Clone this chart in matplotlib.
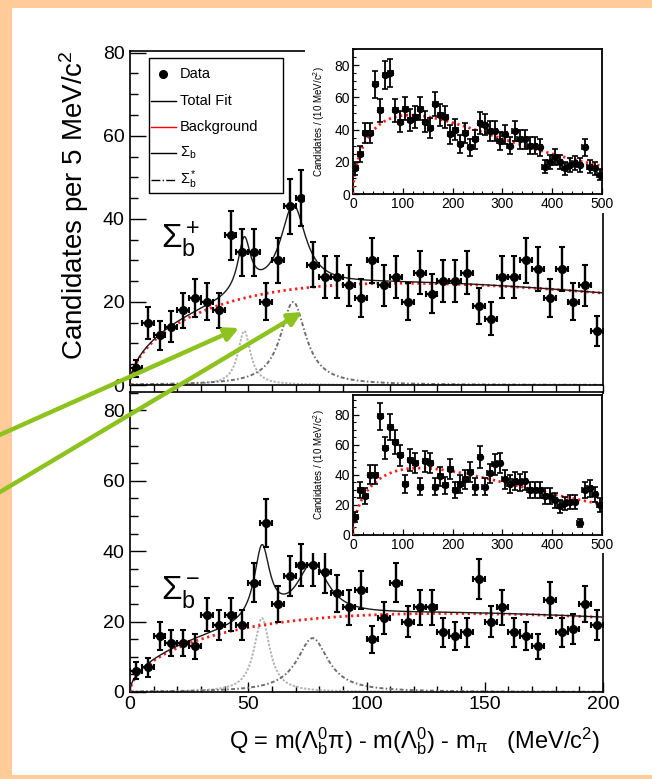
import numpy as np
import matplotlib
matplotlib.use("Agg")
import matplotlib.pyplot as plt
from matplotlib.patches import Rectangle, FancyArrowPatch
from matplotlib.lines import Line2D
from matplotlib.ticker import MultipleLocator

plt.rcParams['font.family'] = ['Liberation Sans', 'DejaVu Sans']
plt.rcParams['mathtext.fontset'] = 'custom'
plt.rcParams['mathtext.rm'] = 'Liberation Sans'
plt.rcParams['mathtext.it'] = 'Liberation Sans:italic'
plt.rcParams['mathtext.bf'] = 'Liberation Sans:bold'

# ---------------- data ----------------
# Q bin centres, 5 MeV bins (main panels) and 10 MeV bins (insets)
q_main = np.arange(2.5, 200, 5.0)
q_wide = np.arange(5.0, 500, 10.0)

# Sigma_b^+ candidates per 5 MeV
counts_plus = [4, 15, 12, 14, 18, 21, 20, 18, 36, 32,
               32, 20, 30, 43, 45, 29, 26, 26, 24, 21,
               30, 24, 26, 20, 27, 22, 25, 25, 27, 19,
               16, 26, 26, 30, 28, 21, 28, 20, 24, 13]
# Sigma_b^- candidates per 5 MeV
counts_minus = [6, 7, 16, 14, 14, 13, 22, 19, 22, 19,
                31, 48, 25, 33, 36, 36, 34, 28, 24, 29,
                15, 21, 31, 20, 24, 24, 17, 16, 17, 32,
                20, 24, 17, 16, 13, 26, 17, 18, 25, 19]
# wide-range spectra, candidates per 10 MeV
wide_plus = [16, 25, 38, 38, 68, 52, 74, 75, 52, 45,
             53, 46, 48, 53, 45, 41, 56, 49, 48, 37,
             40, 31, 38, 29, 34, 44, 43, 39, 39, 33,
             37, 30, 39, 34, 34, 30, 30, 29, 17, 20,
             23, 20, 16, 18, 19, 18, 29, 17, 16, 12]
wide_minus = [12, 30, 26, 40, 40, 79, 58, 72, 62, 53,
              34, 50, 48, 32, 49, 48, 32, 39, 33, 44,
              30, 34, 37, 42, 32, 52, 32, 41, 47, 48,
              37, 34, 36, 35, 36, 30, 30, 30, 26, 26,
              23, 19, 21, 22, 22, 8, 30, 31, 27, 20]

# fit parameters: background (peak height, peak position, power) and
# Breit-Wigner peaks (height, mass, width) per 5 MeV
bkg_plus = (24.5, 115.0, 0.55)
bkg_minus = (22.3, 134.0, 0.55)
sb_plus = (13.0, 48.3, 6.5)
sbs_plus = (20.0, 69.0, 13.0)
sb_minus = (21.0, 55.8, 8.0)
sbs_minus = (15.3, 77.2, 16.0)

# ---------------- model ----------------
def background(q, amp, qpk, a):
    q = np.asarray(q, float)
    return amp * (q / qpk) ** a * np.exp(a * (1.0 - q / qpk))

def breit_wigner(q, h, m, g):
    return h / (1.0 + (2.0 * (q - m) / g) ** 2)

W, H = 652, 779
fig = plt.figure(figsize=(W / 100, H / 100), dpi=100)
fig.patch.set_facecolor('white')

def rect(x0, y0, x1, y1):
    return [x0 / W, 1 - y1 / H, (x1 - x0) / W, (y1 - y0) / H]

def fx(px):
    return px / W

def fy(py):
    return 1 - py / H

PEACH = '#FFCC99'
for r in [(0, 0, W, 8), (0, 0, 12, H), (0, 775, W, H)]:
    fig.add_artist(Rectangle((fx(r[0]), fy(r[3])), (r[2] - r[0]) / W, (r[3] - r[1]) / H,
                             transform=fig.transFigure, facecolor=PEACH,
                             edgecolor='none', zorder=0))

def style_main(ax, ymax, xlabels):
    ax.set_xlim(0, 200)
    ax.set_ylim(0, ymax)
    ax.xaxis.set_major_locator(MultipleLocator(50))
    ax.xaxis.set_minor_locator(MultipleLocator(10))
    ax.yaxis.set_major_locator(MultipleLocator(20))
    ax.yaxis.set_minor_locator(MultipleLocator(5))
    ax.set_yticks([0, 20, 40, 60, 80])
    for s in ax.spines.values():
        s.set_linewidth(1.2)
    ax.tick_params(axis='y', which='major', direction='in', length=11.5, width=1.0,
                   labelsize=14, pad=4)
    ax.tick_params(axis='y', which='minor', direction='in', length=5.8, width=1.0)
    if xlabels:
        ax.tick_params(axis='x', which='major', direction='in', length=7, width=1.0,
                       labelsize=14, pad=3)
        ax.tick_params(axis='x', which='minor', direction='in', length=4, width=1.0)
    else:
        ax.tick_params(axis='x', which='both', direction='out', length=5, width=1.0,
                       labelbottom=False)

def draw_main(ax, counts, bkg, s1, s2):
    qq = np.linspace(0, 200, 801)
    b = background(qq, *bkg)
    p1 = breit_wigner(qq, *s1)
    p2 = breit_wigner(qq, *s2)
    ax.plot(qq, p1, color='#b4b4b4', lw=1.4, ls=(0, (1.2, 0.8)), zorder=2)
    ax.plot(qq, p2, color='#6e6e6e', lw=1.4, ls=(0, (2.0, 1.2, 0.8, 1.2)), zorder=2)
    ax.plot(qq, b, color='#ff1a1a', lw=2.0, ls=(0, (0.8, 1.3)), zorder=3)
    ax.plot(qq, b + p1 + p2, color='#1a1a1a', lw=1.0, zorder=4)
    c = np.asarray(counts, float)
    ax.errorbar(q_main, c, yerr=np.sqrt(c), xerr=2.5, fmt='o', ms=5.5, color='black',
                elinewidth=1.7, capsize=2.5, capthick=1.5, zorder=5)

def draw_inset(ax, counts, bkg, ymax, label_x):
    ax.set_xlim(0, 500)
    ax.set_ylim(0, ymax)
    ax.xaxis.set_major_locator(MultipleLocator(100))
    ax.xaxis.set_minor_locator(MultipleLocator(20))
    ax.yaxis.set_major_locator(MultipleLocator(20))
    ax.yaxis.set_minor_locator(MultipleLocator(5))
    ax.set_yticks([0, 20, 40, 60, 80])
    for s in ax.spines.values():
        s.set_linewidth(1.3)
    ax.tick_params(which='major', direction='in', length=4.5, width=0.9,
                   labelsize=10, pad=2)
    ax.tick_params(which='minor', direction='in', length=2.5, width=0.8)
    qq = np.linspace(0, 500, 1001)
    amp, qpk, a = bkg
    ax.plot(qq, background(qq, 2 * amp, qpk, a), color='#ff1a1a', lw=2.0,
            ls=(0, (0.8, 1.3)), zorder=3)
    c = np.asarray(counts, float)
    ax.errorbar(q_wide, c, yerr=np.sqrt(c), xerr=5, fmt='o', ms=4.3, color='black',
                elinewidth=1.3, capsize=2.0, capthick=1.2, zorder=5)
    ax.set_ylabel('Candidates / (10 MeV/c$^2$)', fontsize=7)
    ax.yaxis.set_label_coords(label_x, 0.5)

# ---------------- main panels ----------------
ax_top = fig.add_axes(rect(130, 51, 603, 385), zorder=1)
style_main(ax_top, 80.4, False)
draw_main(ax_top, counts_plus, bkg_plus, sb_plus, sbs_plus)

ax_bot = fig.add_axes(rect(130, 392, 603, 692), zorder=1)
style_main(ax_bot, 85.2, True)
draw_main(ax_bot, counts_minus, bkg_minus, sb_minus, sbs_minus)

ax_top.text(0.065, 0.435, r'$\Sigma_\mathrm{b}^+$', transform=ax_top.transAxes,
            fontsize=24, ha='left', va='center')
ax_bot.text(0.065, 0.335, r'$\Sigma_\mathrm{b}^-$', transform=ax_bot.transAxes,
            fontsize=24, ha='left', va='center')

fig.text(fx(74), fy(205), r'Candidates per 5 MeV/c$^2$', rotation=90,
         fontsize=20, ha='center', va='center')
fig.text(fx(600), fy(741),
         r'Q = m($\Lambda^0_\mathrm{b}\mathrm{\pi}$) - m($\Lambda^0_\mathrm{b}$) - m$_\mathrm{\pi}$   (MeV/c$^2$)',
         fontsize=17, ha='right', va='center')

# legend box drawn in the upper panel
fig.add_artist(Rectangle((fx(149), fy(193)), 134 / W, 135 / H, transform=fig.transFigure,
                         facecolor='white', edgecolor='black', lw=1.0, zorder=6))
leg_rows = [
    (74, 'marker', 'Data'),
    (101, '-', 'Total Fit'),
    (127, 'red', 'Background'),
    (153, '-', r'$\Sigma_\mathrm{b}$'),
    (180, '-.', r'$\Sigma_\mathrm{b}^*$'),
]
for py, kind, label in leg_rows:
    if kind == 'marker':
        fig.add_artist(Line2D([fx(163)], [fy(py)], marker='o', ms=5.5, color='black',
                              transform=fig.transFigure, zorder=7))
    else:
        col = '#ff0000' if kind == 'red' else 'black'
        ls = '-.' if kind == '-.' else '-'
        fig.add_artist(Line2D([fx(151), fx(176)], [fy(py), fy(py)], color=col, lw=1.0,
                              ls=ls, transform=fig.transFigure, zorder=7))
    fig.text(fx(180), fy(py), label, fontsize=10.5, ha='left', va='center', zorder=7)

# ---------------- insets ----------------
for (x0, y0, x1, y1) in [(305, 42, 606, 213), (305, 394, 606, 553)]:
    fig.add_artist(Rectangle((fx(x0), fy(y1)), (x1 - x0) / W, (y1 - y0) / H,
                             transform=fig.transFigure, facecolor='white',
                             edgecolor='none', zorder=2))

ax_in_top = fig.add_axes(rect(353, 49, 602, 194), zorder=3)
draw_inset(ax_in_top, wide_plus, bkg_plus, 90, -0.105)
ax_in_bot = fig.add_axes(rect(353, 395, 602, 535), zorder=3)
draw_inset(ax_in_bot, wide_minus, bkg_minus, 93.3, -0.105)

# ---------------- pointers to the two Sigma_b^+ states ----------------
GREEN = '#8DC21F'
for (x0, y0, x1, y1) in [(-5, 437, 239, 328), (-5, 495, 302, 312)]:
    fig.add_artist(FancyArrowPatch((fx(x0), fy(y0)), (fx(x1), fy(y1)),
                                   transform=fig.transFigure, arrowstyle='-|>',
                                   mutation_scale=20, lw=3.2, color=GREEN,
                                   shrinkA=0, shrinkB=0, zorder=8))

fig.savefig('out.png', dpi=100, facecolor='white')
